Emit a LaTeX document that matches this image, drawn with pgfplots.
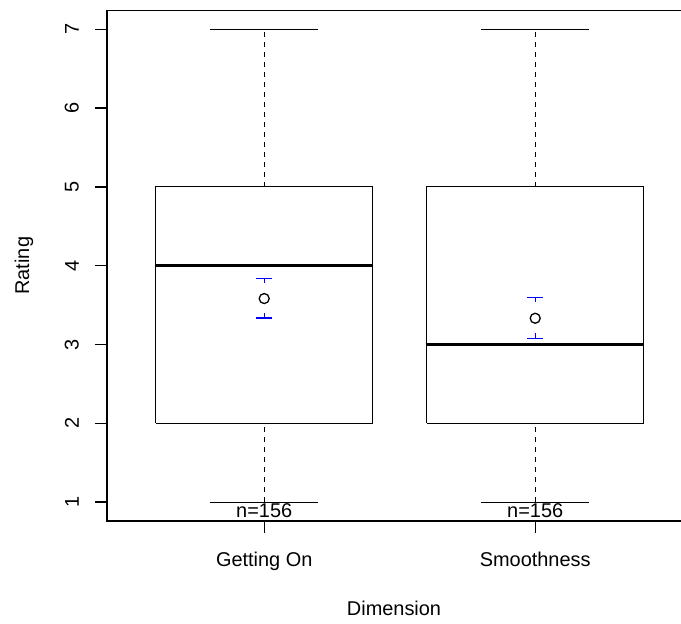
\documentclass[border=0pt]{standalone}
\usepackage{fontspec}
\setmainfont{Liberation Sans}
\usepackage{pgfplots}
\pgfplotsset{compat=1.18}
\begin{document}
\begin{tikzpicture}
\begin{axis}[
  scale only axis, width=585.4bp, height=510.6bp,
  xmin=0.42, xmax=2.58, ymin=0.76, ymax=7.24,
  axis line style={line width=1.3bp},
  major tick style={line width=1.3bp, black},
  tick align=outside, major tick length=12bp,
  xtick={1,2}, xticklabels={Getting On, Smoothness},
  ytick={1,2,3,4,5,6,7},
  xtick pos=left, ytick pos=left,
  /pgf/number format/assume math mode=true,
  ticklabel style={font=\fontsize{20}{24}\selectfont},
  yticklabel style={rotate=90, anchor=south, inner sep=0pt},
  yticklabel shift=16bp,
  xticklabel style={anchor=base, inner sep=0pt},
  xticklabel shift=33bp,
  xlabel={Dimension}, ylabel={Rating},
  every axis x label/.style={at={(axis description cs:0.4903,0)}, anchor=base, yshift=-94bp, font=\fontsize{20}{24}\selectfont},
  every axis y label/.style={at={(axis description cs:-0.1332,0.5)}, rotate=90, anchor=base, font=\fontsize{20}{24}\selectfont},
  clip=false,
]
% boxes
\addplot[black, line width=1.1bp] coordinates {(0.6,2) (1.4,2) (1.4,5) (0.6,5) (0.6,2)};
\addplot[black, line width=1.1bp] coordinates {(1.6,2) (2.4,2) (2.4,5) (1.6,5) (1.6,2)};
% medians
\addplot[black, line width=3.6bp] coordinates {(0.6,4) (1.4,4)};
\addplot[black, line width=3.6bp] coordinates {(1.6,3) (2.4,3)};
% whiskers
\addplot[black, line width=1.1bp, dash pattern=on 5bp off 5bp] coordinates {(1,5) (1,7)};
\addplot[black, line width=1.1bp, dash pattern=on 5bp off 5bp] coordinates {(1,1) (1,2)};
\addplot[black, line width=1.1bp, dash pattern=on 5bp off 5bp] coordinates {(2,5) (2,7)};
\addplot[black, line width=1.1bp, dash pattern=on 5bp off 5bp] coordinates {(2,1) (2,2)};
% staples
\addplot[black, line width=1.1bp] coordinates {(0.8,7) (1.2,7)};
\addplot[black, line width=1.1bp] coordinates {(0.8,1) (1.2,1)};
\addplot[black, line width=1.1bp] coordinates {(1.8,7) (2.2,7)};
\addplot[black, line width=1.1bp] coordinates {(1.8,1) (2.2,1)};
% mean CI bars (caps with short stems)
\addplot[blue, line width=1.2bp] coordinates {(0.97,3.840) (1.03,3.840)};
\addplot[blue, line width=1.2bp] coordinates {(1,3.840) (1,3.776)};
\addplot[blue, line width=1.2bp] coordinates {(0.97,3.336) (1.03,3.336)};
\addplot[blue, line width=1.2bp] coordinates {(1,3.336) (1,3.400)};
\addplot[blue, line width=1.2bp] coordinates {(1.97,3.599) (2.03,3.599)};
\addplot[blue, line width=1.2bp] coordinates {(2,3.599) (2,3.535)};
\addplot[blue, line width=1.2bp] coordinates {(1.97,3.079) (2.03,3.079)};
\addplot[blue, line width=1.2bp] coordinates {(2,3.079) (2,3.143)};
% means
\addplot[only marks, mark=o, mark size=5bp, mark options={line width=1.3bp, black}] coordinates {(1,3.583) (2,3.333)};
% n labels
\node[font=\fontsize{20}{24}\selectfont, anchor=base, inner sep=0pt] at (axis cs:1,0.81) {n=156};
\node[font=\fontsize{20}{24}\selectfont, anchor=base, inner sep=0pt] at (axis cs:2,0.81) {n=156};
\end{axis}
\pgfresetboundingbox
\path (-107bp,-103bp) rectangle (574bp,521bp);
\end{tikzpicture}
\end{document}
